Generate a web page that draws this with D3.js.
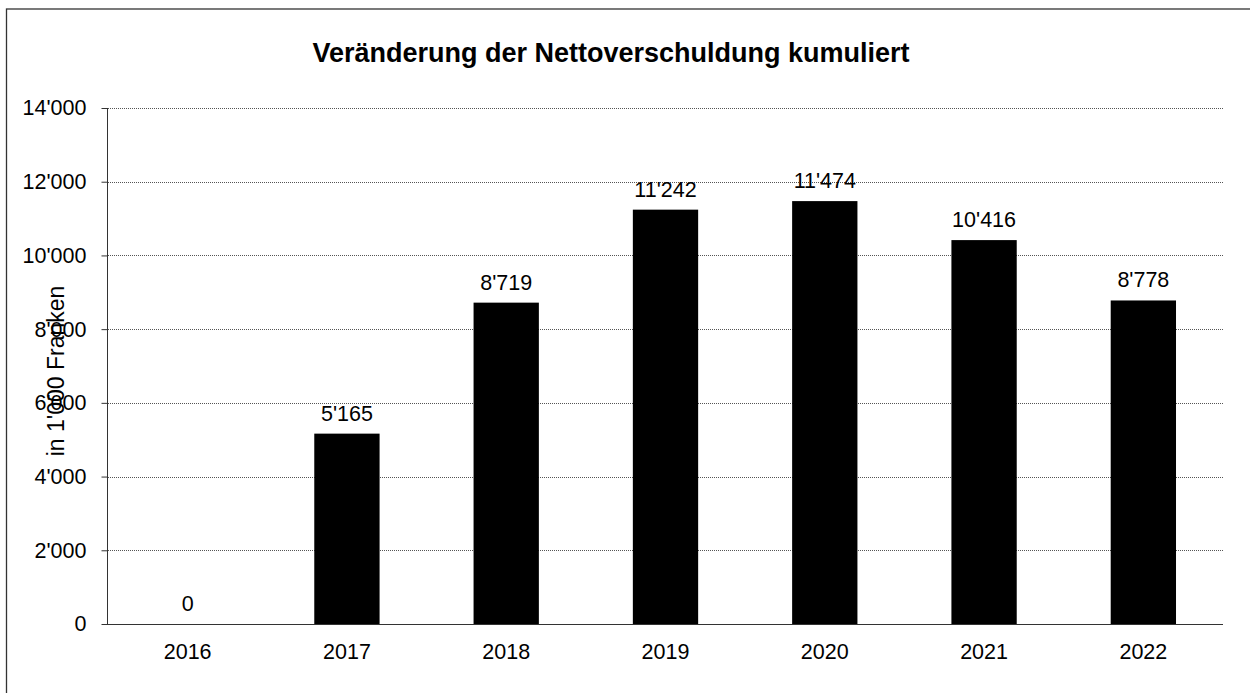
<!DOCTYPE html>
<html>
<head>
<meta charset="utf-8">
<script src="https://cdn.jsdelivr.net/npm/d3@7"></script>
<style>
  body { margin: 0; background: #fff; }
  svg text { font-family: "Liberation Sans", Arial, sans-serif; fill: #000; }
</style>
</head>
<body>
<div class="chart"></div>
<script>
var years = ["2016", "2017", "2018", "2019", "2020", "2021", "2022"];
var values = [0, 5165, 8719, 11242, 11474, 10416, 8778];
var yTicks = [0, 2000, 4000, 6000, 8000, 10000, 12000, 14000];
var title = "Veränderung der Nettoverschuldung kumuliert";
var yTitle = "in 1'000 Franken";

var width = 1250, height = 693;
var margin = { left: 108, right: 27, top: 108, bottom: 69 };

var fmt = function(v) {
	return d3.format(",")(v).replace(/,/g, "'");
};

var svg = d3.select(".chart")
	.append("svg")
	.attr("width", width)
	.attr("height", height);

// outer frame (runs off the picture at right and bottom)
svg.append("rect")
	.attr("x", 6.5).attr("y", 9)
	.attr("width", 1300).attr("height", 800)
	.attr("fill", "none")
	.attr("stroke", "#333")
	.attr("stroke-width", 1.3);

var x = d3.scaleBand()
	.domain(years)
	.range([margin.left, width - margin.right])
	.paddingInner(0.59)
	.paddingOuter(0.295);

var y = d3.scaleLinear()
	.domain([0, 14000])
	.range([height - margin.bottom, margin.top]);

// gridlines
svg.append("g")
	.selectAll("line")
	.data(yTicks.filter(function(d) { return d > 0; }))
	.enter()
	.append("line")
	.attr("x1", margin.left)
	.attr("x2", width - margin.right)
	.attr("y1", function(d) { return Math.round(y(d)) + 0.5; })
	.attr("y2", function(d) { return Math.round(y(d)) + 0.5; })
	.attr("stroke", "#555")
	.attr("stroke-dasharray", "1,1");

// bars
svg.append("g")
	.selectAll("rect")
	.data(values)
	.enter()
	.append("rect")
	.attr("x", function(d, i) { return x(years[i]); })
	.attr("y", function(d) { return y(d); })
	.attr("width", x.bandwidth())
	.attr("height", function(d) { return y(0) - y(d); })
	.attr("fill", "#000");

// value labels
svg.append("g")
	.selectAll("text")
	.data(values)
	.enter()
	.append("text")
	.text(function(d) { return fmt(d); })
	.attr("x", function(d, i) { return x(years[i]) + x.bandwidth() / 2; })
	.attr("y", function(d) { return y(d) - 13; })
	.attr("text-anchor", "middle")
	.style("font-size", "21.5px");

// y axis
var yAxis = d3.axisLeft(y)
	.tickValues(yTicks)
	.tickFormat(fmt)
	.tickSize(6)
	.tickPadding(15);

var gy = svg.append("g")
	.attr("transform", "translate(" + (margin.left - 0.5) + ",0)")
	.call(yAxis);
gy.select(".domain").attr("stroke", "#333").attr("d", "M0," + y(14000) + "V" + y(0));
gy.selectAll(".tick line").attr("stroke", "#333");
gy.selectAll(".tick text").style("font-size", "21.5px").attr("fill", "#000");

// x axis
var xAxis = d3.axisBottom(x).tickSize(0).tickPadding(19);
var gx = svg.append("g")
	.attr("transform", "translate(0," + (y(0) + 0.5) + ")")
	.call(xAxis);
gx.select(".domain").attr("stroke", "#333").attr("d", "M" + (margin.left - 6) + ",0H" + (width - margin.right));
gx.selectAll(".tick text").style("font-size", "21.5px").attr("fill", "#000");

// title
svg.append("text")
	.text(title)
	.attr("x", 611)
	.attr("y", 62)
	.attr("text-anchor", "middle")
	.style("font-size", "27px")
	.style("font-weight", "bold");

// y axis title
svg.append("text")
	.text(yTitle)
	.attr("transform", "translate(64,371) rotate(-90)")
	.attr("text-anchor", "middle")
	.style("font-size", "23px");
</script>
</body>
</html>
